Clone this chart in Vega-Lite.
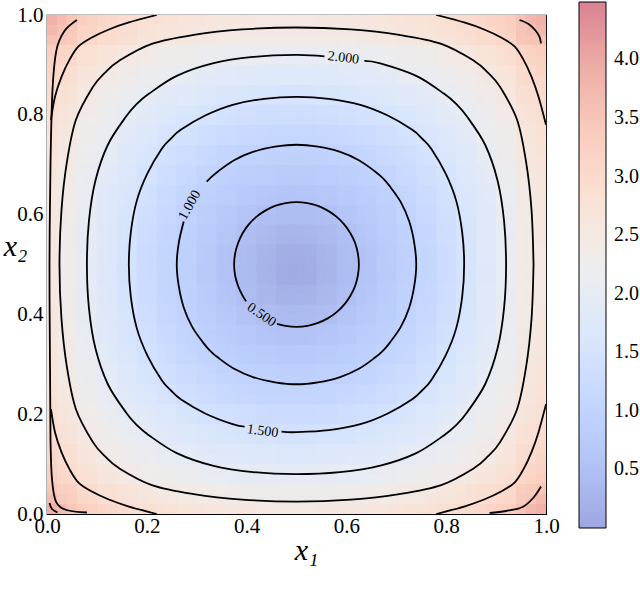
{
"$schema":"https://vega.github.io/schema/vega-lite/v6.json",
"width":499,"height":499,
"autosize":{"type":"none"},
"padding":{"left":47,"top":15,"right":94,"bottom":84},
"background":"white",
"config":{"view":{"stroke":"black","strokeWidth":1.2},"font":"Liberation Serif"},
"datasets":{
"grid":[
{"x":0.02,"y":0.02,"v":3.85},{"x":0.06,"y":0.02,"v":3.37},{"x":0.1,"y":0.02,"v":3.17},{"x":0.14,"y":0.02,"v":3.03},{"x":0.18,"y":0.02,"v":2.91},{"x":0.22,"y":0.02,"v":2.82},{"x":0.26,"y":0.02,"v":2.74},{"x":0.3,"y":0.02,"v":2.68},{"x":0.34,"y":0.02,"v":2.63},{"x":0.38,"y":0.02,"v":2.59},{"x":0.42,"y":0.02,"v":2.57},{"x":0.46,"y":0.02,"v":2.56},{"x":0.5,"y":0.02,"v":2.55},{"x":0.54,"y":0.02,"v":2.56},{"x":0.58,"y":0.02,"v":2.57},{"x":0.62,"y":0.02,"v":2.59},{"x":0.66,"y":0.02,"v":2.63},{"x":0.7,"y":0.02,"v":2.68},{"x":0.74,"y":0.02,"v":2.74},{"x":0.78,"y":0.02,"v":2.82},{"x":0.82,"y":0.02,"v":2.91},{"x":0.86,"y":0.02,"v":3.03},{"x":0.9,"y":0.02,"v":3.17},{"x":0.94,"y":0.02,"v":3.37},{"x":0.98,"y":0.02,"v":3.85},
{"x":0.02,"y":0.06,"v":3.37},{"x":0.06,"y":0.06,"v":3.04},{"x":0.1,"y":0.06,"v":2.84},{"x":0.14,"y":0.06,"v":2.69},{"x":0.18,"y":0.06,"v":2.56},{"x":0.22,"y":0.06,"v":2.45},{"x":0.26,"y":0.06,"v":2.36},{"x":0.3,"y":0.06,"v":2.30},{"x":0.34,"y":0.06,"v":2.24},{"x":0.38,"y":0.06,"v":2.19},{"x":0.42,"y":0.06,"v":2.16},{"x":0.46,"y":0.06,"v":2.15},{"x":0.5,"y":0.06,"v":2.14},{"x":0.54,"y":0.06,"v":2.15},{"x":0.58,"y":0.06,"v":2.16},{"x":0.62,"y":0.06,"v":2.19},{"x":0.66,"y":0.06,"v":2.24},{"x":0.7,"y":0.06,"v":2.30},{"x":0.74,"y":0.06,"v":2.36},{"x":0.78,"y":0.06,"v":2.45},{"x":0.82,"y":0.06,"v":2.56},{"x":0.86,"y":0.06,"v":2.69},{"x":0.9,"y":0.06,"v":2.84},{"x":0.94,"y":0.06,"v":3.04},{"x":0.98,"y":0.06,"v":3.37},
{"x":0.02,"y":0.1,"v":3.17},{"x":0.06,"y":0.1,"v":2.84},{"x":0.1,"y":0.1,"v":2.63},{"x":0.14,"y":0.1,"v":2.47},{"x":0.18,"y":0.1,"v":2.33},{"x":0.22,"y":0.1,"v":2.21},{"x":0.26,"y":0.1,"v":2.11},{"x":0.3,"y":0.1,"v":2.04},{"x":0.34,"y":0.1,"v":1.97},{"x":0.38,"y":0.1,"v":1.92},{"x":0.42,"y":0.1,"v":1.89},{"x":0.46,"y":0.1,"v":1.87},{"x":0.5,"y":0.1,"v":1.86},{"x":0.54,"y":0.1,"v":1.87},{"x":0.58,"y":0.1,"v":1.89},{"x":0.62,"y":0.1,"v":1.92},{"x":0.66,"y":0.1,"v":1.97},{"x":0.7,"y":0.1,"v":2.04},{"x":0.74,"y":0.1,"v":2.11},{"x":0.78,"y":0.1,"v":2.21},{"x":0.82,"y":0.1,"v":2.33},{"x":0.86,"y":0.1,"v":2.47},{"x":0.9,"y":0.1,"v":2.63},{"x":0.94,"y":0.1,"v":2.84},{"x":0.98,"y":0.1,"v":3.17},
{"x":0.02,"y":0.14,"v":3.03},{"x":0.06,"y":0.14,"v":2.69},{"x":0.1,"y":0.14,"v":2.47},{"x":0.14,"y":0.14,"v":2.31},{"x":0.18,"y":0.14,"v":2.16},{"x":0.22,"y":0.14,"v":2.02},{"x":0.26,"y":0.14,"v":1.91},{"x":0.3,"y":0.14,"v":1.83},{"x":0.34,"y":0.14,"v":1.75},{"x":0.38,"y":0.14,"v":1.70},{"x":0.42,"y":0.14,"v":1.66},{"x":0.46,"y":0.14,"v":1.64},{"x":0.5,"y":0.14,"v":1.63},{"x":0.54,"y":0.14,"v":1.64},{"x":0.58,"y":0.14,"v":1.66},{"x":0.62,"y":0.14,"v":1.70},{"x":0.66,"y":0.14,"v":1.75},{"x":0.7,"y":0.14,"v":1.83},{"x":0.74,"y":0.14,"v":1.91},{"x":0.78,"y":0.14,"v":2.02},{"x":0.82,"y":0.14,"v":2.16},{"x":0.86,"y":0.14,"v":2.31},{"x":0.9,"y":0.14,"v":2.47},{"x":0.94,"y":0.14,"v":2.69},{"x":0.98,"y":0.14,"v":3.03},
{"x":0.02,"y":0.18,"v":2.91},{"x":0.06,"y":0.18,"v":2.56},{"x":0.1,"y":0.18,"v":2.33},{"x":0.14,"y":0.18,"v":2.16},{"x":0.18,"y":0.18,"v":1.99},{"x":0.22,"y":0.18,"v":1.85},{"x":0.26,"y":0.18,"v":1.73},{"x":0.3,"y":0.18,"v":1.64},{"x":0.34,"y":0.18,"v":1.55},{"x":0.38,"y":0.18,"v":1.49},{"x":0.42,"y":0.18,"v":1.45},{"x":0.46,"y":0.18,"v":1.42},{"x":0.5,"y":0.18,"v":1.41},{"x":0.54,"y":0.18,"v":1.42},{"x":0.58,"y":0.18,"v":1.45},{"x":0.62,"y":0.18,"v":1.49},{"x":0.66,"y":0.18,"v":1.55},{"x":0.7,"y":0.18,"v":1.64},{"x":0.74,"y":0.18,"v":1.73},{"x":0.78,"y":0.18,"v":1.85},{"x":0.82,"y":0.18,"v":1.99},{"x":0.86,"y":0.18,"v":2.16},{"x":0.9,"y":0.18,"v":2.33},{"x":0.94,"y":0.18,"v":2.56},{"x":0.98,"y":0.18,"v":2.91},
{"x":0.02,"y":0.22,"v":2.82},{"x":0.06,"y":0.22,"v":2.45},{"x":0.1,"y":0.22,"v":2.21},{"x":0.14,"y":0.22,"v":2.02},{"x":0.18,"y":0.22,"v":1.85},{"x":0.22,"y":0.22,"v":1.70},{"x":0.26,"y":0.22,"v":1.56},{"x":0.3,"y":0.22,"v":1.46},{"x":0.34,"y":0.22,"v":1.36},{"x":0.38,"y":0.22,"v":1.29},{"x":0.42,"y":0.22,"v":1.24},{"x":0.46,"y":0.22,"v":1.21},{"x":0.5,"y":0.22,"v":1.20},{"x":0.54,"y":0.22,"v":1.21},{"x":0.58,"y":0.22,"v":1.24},{"x":0.62,"y":0.22,"v":1.29},{"x":0.66,"y":0.22,"v":1.36},{"x":0.7,"y":0.22,"v":1.46},{"x":0.74,"y":0.22,"v":1.56},{"x":0.78,"y":0.22,"v":1.70},{"x":0.82,"y":0.22,"v":1.85},{"x":0.86,"y":0.22,"v":2.02},{"x":0.9,"y":0.22,"v":2.21},{"x":0.94,"y":0.22,"v":2.45},{"x":0.98,"y":0.22,"v":2.82},
{"x":0.02,"y":0.26,"v":2.74},{"x":0.06,"y":0.26,"v":2.36},{"x":0.1,"y":0.26,"v":2.11},{"x":0.14,"y":0.26,"v":1.91},{"x":0.18,"y":0.26,"v":1.73},{"x":0.22,"y":0.26,"v":1.56},{"x":0.26,"y":0.26,"v":1.41},{"x":0.3,"y":0.26,"v":1.30},{"x":0.34,"y":0.26,"v":1.19},{"x":0.38,"y":0.26,"v":1.11},{"x":0.42,"y":0.26,"v":1.05},{"x":0.46,"y":0.26,"v":1.01},{"x":0.5,"y":0.26,"v":1.00},{"x":0.54,"y":0.26,"v":1.01},{"x":0.58,"y":0.26,"v":1.05},{"x":0.62,"y":0.26,"v":1.11},{"x":0.66,"y":0.26,"v":1.19},{"x":0.7,"y":0.26,"v":1.30},{"x":0.74,"y":0.26,"v":1.41},{"x":0.78,"y":0.26,"v":1.56},{"x":0.82,"y":0.26,"v":1.73},{"x":0.86,"y":0.26,"v":1.91},{"x":0.9,"y":0.26,"v":2.11},{"x":0.94,"y":0.26,"v":2.36},{"x":0.98,"y":0.26,"v":2.74},
{"x":0.02,"y":0.3,"v":2.68},{"x":0.06,"y":0.3,"v":2.30},{"x":0.1,"y":0.3,"v":2.04},{"x":0.14,"y":0.3,"v":1.83},{"x":0.18,"y":0.3,"v":1.64},{"x":0.22,"y":0.3,"v":1.46},{"x":0.26,"y":0.3,"v":1.30},{"x":0.3,"y":0.3,"v":1.17},{"x":0.34,"y":0.3,"v":1.05},{"x":0.38,"y":0.3,"v":0.96},{"x":0.42,"y":0.3,"v":0.89},{"x":0.46,"y":0.3,"v":0.85},{"x":0.5,"y":0.3,"v":0.83},{"x":0.54,"y":0.3,"v":0.85},{"x":0.58,"y":0.3,"v":0.89},{"x":0.62,"y":0.3,"v":0.96},{"x":0.66,"y":0.3,"v":1.05},{"x":0.7,"y":0.3,"v":1.17},{"x":0.74,"y":0.3,"v":1.30},{"x":0.78,"y":0.3,"v":1.46},{"x":0.82,"y":0.3,"v":1.64},{"x":0.86,"y":0.3,"v":1.83},{"x":0.9,"y":0.3,"v":2.04},{"x":0.94,"y":0.3,"v":2.30},{"x":0.98,"y":0.3,"v":2.68},
{"x":0.02,"y":0.34,"v":2.63},{"x":0.06,"y":0.34,"v":2.24},{"x":0.1,"y":0.34,"v":1.97},{"x":0.14,"y":0.34,"v":1.75},{"x":0.18,"y":0.34,"v":1.55},{"x":0.22,"y":0.34,"v":1.36},{"x":0.26,"y":0.34,"v":1.19},{"x":0.3,"y":0.34,"v":1.05},{"x":0.34,"y":0.34,"v":0.92},{"x":0.38,"y":0.34,"v":0.81},{"x":0.42,"y":0.34,"v":0.72},{"x":0.46,"y":0.34,"v":0.67},{"x":0.5,"y":0.34,"v":0.65},{"x":0.54,"y":0.34,"v":0.67},{"x":0.58,"y":0.34,"v":0.72},{"x":0.62,"y":0.34,"v":0.81},{"x":0.66,"y":0.34,"v":0.92},{"x":0.7,"y":0.34,"v":1.05},{"x":0.74,"y":0.34,"v":1.19},{"x":0.78,"y":0.34,"v":1.36},{"x":0.82,"y":0.34,"v":1.55},{"x":0.86,"y":0.34,"v":1.75},{"x":0.9,"y":0.34,"v":1.97},{"x":0.94,"y":0.34,"v":2.24},{"x":0.98,"y":0.34,"v":2.63},
{"x":0.02,"y":0.38,"v":2.59},{"x":0.06,"y":0.38,"v":2.19},{"x":0.1,"y":0.38,"v":1.92},{"x":0.14,"y":0.38,"v":1.70},{"x":0.18,"y":0.38,"v":1.49},{"x":0.22,"y":0.38,"v":1.29},{"x":0.26,"y":0.38,"v":1.11},{"x":0.3,"y":0.38,"v":0.96},{"x":0.34,"y":0.38,"v":0.81},{"x":0.38,"y":0.38,"v":0.68},{"x":0.42,"y":0.38,"v":0.58},{"x":0.46,"y":0.38,"v":0.51},{"x":0.5,"y":0.38,"v":0.48},{"x":0.54,"y":0.38,"v":0.51},{"x":0.58,"y":0.38,"v":0.58},{"x":0.62,"y":0.38,"v":0.68},{"x":0.66,"y":0.38,"v":0.81},{"x":0.7,"y":0.38,"v":0.96},{"x":0.74,"y":0.38,"v":1.11},{"x":0.78,"y":0.38,"v":1.29},{"x":0.82,"y":0.38,"v":1.49},{"x":0.86,"y":0.38,"v":1.70},{"x":0.9,"y":0.38,"v":1.92},{"x":0.94,"y":0.38,"v":2.19},{"x":0.98,"y":0.38,"v":2.59},
{"x":0.02,"y":0.42,"v":2.57},{"x":0.06,"y":0.42,"v":2.16},{"x":0.1,"y":0.42,"v":1.89},{"x":0.14,"y":0.42,"v":1.66},{"x":0.18,"y":0.42,"v":1.45},{"x":0.22,"y":0.42,"v":1.24},{"x":0.26,"y":0.42,"v":1.05},{"x":0.3,"y":0.42,"v":0.89},{"x":0.34,"y":0.42,"v":0.72},{"x":0.38,"y":0.42,"v":0.58},{"x":0.42,"y":0.42,"v":0.45},{"x":0.46,"y":0.42,"v":0.36},{"x":0.5,"y":0.42,"v":0.32},{"x":0.54,"y":0.42,"v":0.36},{"x":0.58,"y":0.42,"v":0.45},{"x":0.62,"y":0.42,"v":0.58},{"x":0.66,"y":0.42,"v":0.72},{"x":0.7,"y":0.42,"v":0.89},{"x":0.74,"y":0.42,"v":1.05},{"x":0.78,"y":0.42,"v":1.24},{"x":0.82,"y":0.42,"v":1.45},{"x":0.86,"y":0.42,"v":1.66},{"x":0.9,"y":0.42,"v":1.89},{"x":0.94,"y":0.42,"v":2.16},{"x":0.98,"y":0.42,"v":2.57},
{"x":0.02,"y":0.46,"v":2.56},{"x":0.06,"y":0.46,"v":2.15},{"x":0.1,"y":0.46,"v":1.87},{"x":0.14,"y":0.46,"v":1.64},{"x":0.18,"y":0.46,"v":1.42},{"x":0.22,"y":0.46,"v":1.21},{"x":0.26,"y":0.46,"v":1.01},{"x":0.3,"y":0.46,"v":0.85},{"x":0.34,"y":0.46,"v":0.67},{"x":0.38,"y":0.46,"v":0.51},{"x":0.42,"y":0.46,"v":0.36},{"x":0.46,"y":0.46,"v":0.23},{"x":0.5,"y":0.46,"v":0.16},{"x":0.54,"y":0.46,"v":0.23},{"x":0.58,"y":0.46,"v":0.36},{"x":0.62,"y":0.46,"v":0.51},{"x":0.66,"y":0.46,"v":0.67},{"x":0.7,"y":0.46,"v":0.85},{"x":0.74,"y":0.46,"v":1.01},{"x":0.78,"y":0.46,"v":1.21},{"x":0.82,"y":0.46,"v":1.42},{"x":0.86,"y":0.46,"v":1.64},{"x":0.9,"y":0.46,"v":1.87},{"x":0.94,"y":0.46,"v":2.15},{"x":0.98,"y":0.46,"v":2.56},
{"x":0.02,"y":0.5,"v":2.55},{"x":0.06,"y":0.5,"v":2.14},{"x":0.1,"y":0.5,"v":1.86},{"x":0.14,"y":0.5,"v":1.63},{"x":0.18,"y":0.5,"v":1.41},{"x":0.22,"y":0.5,"v":1.20},{"x":0.26,"y":0.5,"v":1.00},{"x":0.3,"y":0.5,"v":0.83},{"x":0.34,"y":0.5,"v":0.65},{"x":0.38,"y":0.5,"v":0.48},{"x":0.42,"y":0.5,"v":0.32},{"x":0.46,"y":0.5,"v":0.16},{"x":0.5,"y":0.5,"v":0.0},{"x":0.54,"y":0.5,"v":0.16},{"x":0.58,"y":0.5,"v":0.32},{"x":0.62,"y":0.5,"v":0.48},{"x":0.66,"y":0.5,"v":0.65},{"x":0.7,"y":0.5,"v":0.83},{"x":0.74,"y":0.5,"v":1.00},{"x":0.78,"y":0.5,"v":1.20},{"x":0.82,"y":0.5,"v":1.41},{"x":0.86,"y":0.5,"v":1.63},{"x":0.9,"y":0.5,"v":1.86},{"x":0.94,"y":0.5,"v":2.14},{"x":0.98,"y":0.5,"v":2.55},
{"x":0.02,"y":0.54,"v":2.56},{"x":0.06,"y":0.54,"v":2.15},{"x":0.1,"y":0.54,"v":1.87},{"x":0.14,"y":0.54,"v":1.64},{"x":0.18,"y":0.54,"v":1.42},{"x":0.22,"y":0.54,"v":1.21},{"x":0.26,"y":0.54,"v":1.01},{"x":0.3,"y":0.54,"v":0.85},{"x":0.34,"y":0.54,"v":0.67},{"x":0.38,"y":0.54,"v":0.51},{"x":0.42,"y":0.54,"v":0.36},{"x":0.46,"y":0.54,"v":0.23},{"x":0.5,"y":0.54,"v":0.16},{"x":0.54,"y":0.54,"v":0.23},{"x":0.58,"y":0.54,"v":0.36},{"x":0.62,"y":0.54,"v":0.51},{"x":0.66,"y":0.54,"v":0.67},{"x":0.7,"y":0.54,"v":0.85},{"x":0.74,"y":0.54,"v":1.01},{"x":0.78,"y":0.54,"v":1.21},{"x":0.82,"y":0.54,"v":1.42},{"x":0.86,"y":0.54,"v":1.64},{"x":0.9,"y":0.54,"v":1.87},{"x":0.94,"y":0.54,"v":2.15},{"x":0.98,"y":0.54,"v":2.56},
{"x":0.02,"y":0.58,"v":2.57},{"x":0.06,"y":0.58,"v":2.16},{"x":0.1,"y":0.58,"v":1.89},{"x":0.14,"y":0.58,"v":1.66},{"x":0.18,"y":0.58,"v":1.45},{"x":0.22,"y":0.58,"v":1.24},{"x":0.26,"y":0.58,"v":1.05},{"x":0.3,"y":0.58,"v":0.89},{"x":0.34,"y":0.58,"v":0.72},{"x":0.38,"y":0.58,"v":0.58},{"x":0.42,"y":0.58,"v":0.45},{"x":0.46,"y":0.58,"v":0.36},{"x":0.5,"y":0.58,"v":0.32},{"x":0.54,"y":0.58,"v":0.36},{"x":0.58,"y":0.58,"v":0.45},{"x":0.62,"y":0.58,"v":0.58},{"x":0.66,"y":0.58,"v":0.72},{"x":0.7,"y":0.58,"v":0.89},{"x":0.74,"y":0.58,"v":1.05},{"x":0.78,"y":0.58,"v":1.24},{"x":0.82,"y":0.58,"v":1.45},{"x":0.86,"y":0.58,"v":1.66},{"x":0.9,"y":0.58,"v":1.89},{"x":0.94,"y":0.58,"v":2.16},{"x":0.98,"y":0.58,"v":2.57},
{"x":0.02,"y":0.62,"v":2.59},{"x":0.06,"y":0.62,"v":2.19},{"x":0.1,"y":0.62,"v":1.92},{"x":0.14,"y":0.62,"v":1.70},{"x":0.18,"y":0.62,"v":1.49},{"x":0.22,"y":0.62,"v":1.29},{"x":0.26,"y":0.62,"v":1.11},{"x":0.3,"y":0.62,"v":0.96},{"x":0.34,"y":0.62,"v":0.81},{"x":0.38,"y":0.62,"v":0.68},{"x":0.42,"y":0.62,"v":0.58},{"x":0.46,"y":0.62,"v":0.51},{"x":0.5,"y":0.62,"v":0.48},{"x":0.54,"y":0.62,"v":0.51},{"x":0.58,"y":0.62,"v":0.58},{"x":0.62,"y":0.62,"v":0.68},{"x":0.66,"y":0.62,"v":0.81},{"x":0.7,"y":0.62,"v":0.96},{"x":0.74,"y":0.62,"v":1.11},{"x":0.78,"y":0.62,"v":1.29},{"x":0.82,"y":0.62,"v":1.49},{"x":0.86,"y":0.62,"v":1.70},{"x":0.9,"y":0.62,"v":1.92},{"x":0.94,"y":0.62,"v":2.19},{"x":0.98,"y":0.62,"v":2.59},
{"x":0.02,"y":0.66,"v":2.63},{"x":0.06,"y":0.66,"v":2.24},{"x":0.1,"y":0.66,"v":1.97},{"x":0.14,"y":0.66,"v":1.75},{"x":0.18,"y":0.66,"v":1.55},{"x":0.22,"y":0.66,"v":1.36},{"x":0.26,"y":0.66,"v":1.19},{"x":0.3,"y":0.66,"v":1.05},{"x":0.34,"y":0.66,"v":0.92},{"x":0.38,"y":0.66,"v":0.81},{"x":0.42,"y":0.66,"v":0.72},{"x":0.46,"y":0.66,"v":0.67},{"x":0.5,"y":0.66,"v":0.65},{"x":0.54,"y":0.66,"v":0.67},{"x":0.58,"y":0.66,"v":0.72},{"x":0.62,"y":0.66,"v":0.81},{"x":0.66,"y":0.66,"v":0.92},{"x":0.7,"y":0.66,"v":1.05},{"x":0.74,"y":0.66,"v":1.19},{"x":0.78,"y":0.66,"v":1.36},{"x":0.82,"y":0.66,"v":1.55},{"x":0.86,"y":0.66,"v":1.75},{"x":0.9,"y":0.66,"v":1.97},{"x":0.94,"y":0.66,"v":2.24},{"x":0.98,"y":0.66,"v":2.63},
{"x":0.02,"y":0.7,"v":2.68},{"x":0.06,"y":0.7,"v":2.30},{"x":0.1,"y":0.7,"v":2.04},{"x":0.14,"y":0.7,"v":1.83},{"x":0.18,"y":0.7,"v":1.64},{"x":0.22,"y":0.7,"v":1.46},{"x":0.26,"y":0.7,"v":1.30},{"x":0.3,"y":0.7,"v":1.17},{"x":0.34,"y":0.7,"v":1.05},{"x":0.38,"y":0.7,"v":0.96},{"x":0.42,"y":0.7,"v":0.89},{"x":0.46,"y":0.7,"v":0.85},{"x":0.5,"y":0.7,"v":0.83},{"x":0.54,"y":0.7,"v":0.85},{"x":0.58,"y":0.7,"v":0.89},{"x":0.62,"y":0.7,"v":0.96},{"x":0.66,"y":0.7,"v":1.05},{"x":0.7,"y":0.7,"v":1.17},{"x":0.74,"y":0.7,"v":1.30},{"x":0.78,"y":0.7,"v":1.46},{"x":0.82,"y":0.7,"v":1.64},{"x":0.86,"y":0.7,"v":1.83},{"x":0.9,"y":0.7,"v":2.04},{"x":0.94,"y":0.7,"v":2.30},{"x":0.98,"y":0.7,"v":2.68},
{"x":0.02,"y":0.74,"v":2.74},{"x":0.06,"y":0.74,"v":2.36},{"x":0.1,"y":0.74,"v":2.11},{"x":0.14,"y":0.74,"v":1.91},{"x":0.18,"y":0.74,"v":1.73},{"x":0.22,"y":0.74,"v":1.56},{"x":0.26,"y":0.74,"v":1.41},{"x":0.3,"y":0.74,"v":1.30},{"x":0.34,"y":0.74,"v":1.19},{"x":0.38,"y":0.74,"v":1.11},{"x":0.42,"y":0.74,"v":1.05},{"x":0.46,"y":0.74,"v":1.01},{"x":0.5,"y":0.74,"v":1.00},{"x":0.54,"y":0.74,"v":1.01},{"x":0.58,"y":0.74,"v":1.05},{"x":0.62,"y":0.74,"v":1.11},{"x":0.66,"y":0.74,"v":1.19},{"x":0.7,"y":0.74,"v":1.30},{"x":0.74,"y":0.74,"v":1.41},{"x":0.78,"y":0.74,"v":1.56},{"x":0.82,"y":0.74,"v":1.73},{"x":0.86,"y":0.74,"v":1.91},{"x":0.9,"y":0.74,"v":2.11},{"x":0.94,"y":0.74,"v":2.36},{"x":0.98,"y":0.74,"v":2.74},
{"x":0.02,"y":0.78,"v":2.82},{"x":0.06,"y":0.78,"v":2.45},{"x":0.1,"y":0.78,"v":2.21},{"x":0.14,"y":0.78,"v":2.02},{"x":0.18,"y":0.78,"v":1.85},{"x":0.22,"y":0.78,"v":1.70},{"x":0.26,"y":0.78,"v":1.56},{"x":0.3,"y":0.78,"v":1.46},{"x":0.34,"y":0.78,"v":1.36},{"x":0.38,"y":0.78,"v":1.29},{"x":0.42,"y":0.78,"v":1.24},{"x":0.46,"y":0.78,"v":1.21},{"x":0.5,"y":0.78,"v":1.20},{"x":0.54,"y":0.78,"v":1.21},{"x":0.58,"y":0.78,"v":1.24},{"x":0.62,"y":0.78,"v":1.29},{"x":0.66,"y":0.78,"v":1.36},{"x":0.7,"y":0.78,"v":1.46},{"x":0.74,"y":0.78,"v":1.56},{"x":0.78,"y":0.78,"v":1.70},{"x":0.82,"y":0.78,"v":1.85},{"x":0.86,"y":0.78,"v":2.02},{"x":0.9,"y":0.78,"v":2.21},{"x":0.94,"y":0.78,"v":2.45},{"x":0.98,"y":0.78,"v":2.82},
{"x":0.02,"y":0.82,"v":2.91},{"x":0.06,"y":0.82,"v":2.56},{"x":0.1,"y":0.82,"v":2.33},{"x":0.14,"y":0.82,"v":2.16},{"x":0.18,"y":0.82,"v":1.99},{"x":0.22,"y":0.82,"v":1.85},{"x":0.26,"y":0.82,"v":1.73},{"x":0.3,"y":0.82,"v":1.64},{"x":0.34,"y":0.82,"v":1.55},{"x":0.38,"y":0.82,"v":1.49},{"x":0.42,"y":0.82,"v":1.45},{"x":0.46,"y":0.82,"v":1.42},{"x":0.5,"y":0.82,"v":1.41},{"x":0.54,"y":0.82,"v":1.42},{"x":0.58,"y":0.82,"v":1.45},{"x":0.62,"y":0.82,"v":1.49},{"x":0.66,"y":0.82,"v":1.55},{"x":0.7,"y":0.82,"v":1.64},{"x":0.74,"y":0.82,"v":1.73},{"x":0.78,"y":0.82,"v":1.85},{"x":0.82,"y":0.82,"v":1.99},{"x":0.86,"y":0.82,"v":2.16},{"x":0.9,"y":0.82,"v":2.33},{"x":0.94,"y":0.82,"v":2.56},{"x":0.98,"y":0.82,"v":2.91},
{"x":0.02,"y":0.86,"v":3.03},{"x":0.06,"y":0.86,"v":2.69},{"x":0.1,"y":0.86,"v":2.47},{"x":0.14,"y":0.86,"v":2.31},{"x":0.18,"y":0.86,"v":2.16},{"x":0.22,"y":0.86,"v":2.02},{"x":0.26,"y":0.86,"v":1.91},{"x":0.3,"y":0.86,"v":1.83},{"x":0.34,"y":0.86,"v":1.75},{"x":0.38,"y":0.86,"v":1.70},{"x":0.42,"y":0.86,"v":1.66},{"x":0.46,"y":0.86,"v":1.64},{"x":0.5,"y":0.86,"v":1.63},{"x":0.54,"y":0.86,"v":1.64},{"x":0.58,"y":0.86,"v":1.66},{"x":0.62,"y":0.86,"v":1.70},{"x":0.66,"y":0.86,"v":1.75},{"x":0.7,"y":0.86,"v":1.83},{"x":0.74,"y":0.86,"v":1.91},{"x":0.78,"y":0.86,"v":2.02},{"x":0.82,"y":0.86,"v":2.16},{"x":0.86,"y":0.86,"v":2.31},{"x":0.9,"y":0.86,"v":2.47},{"x":0.94,"y":0.86,"v":2.69},{"x":0.98,"y":0.86,"v":3.03},
{"x":0.02,"y":0.9,"v":3.17},{"x":0.06,"y":0.9,"v":2.84},{"x":0.1,"y":0.9,"v":2.63},{"x":0.14,"y":0.9,"v":2.47},{"x":0.18,"y":0.9,"v":2.33},{"x":0.22,"y":0.9,"v":2.21},{"x":0.26,"y":0.9,"v":2.11},{"x":0.3,"y":0.9,"v":2.04},{"x":0.34,"y":0.9,"v":1.97},{"x":0.38,"y":0.9,"v":1.92},{"x":0.42,"y":0.9,"v":1.89},{"x":0.46,"y":0.9,"v":1.87},{"x":0.5,"y":0.9,"v":1.86},{"x":0.54,"y":0.9,"v":1.87},{"x":0.58,"y":0.9,"v":1.89},{"x":0.62,"y":0.9,"v":1.92},{"x":0.66,"y":0.9,"v":1.97},{"x":0.7,"y":0.9,"v":2.04},{"x":0.74,"y":0.9,"v":2.11},{"x":0.78,"y":0.9,"v":2.21},{"x":0.82,"y":0.9,"v":2.33},{"x":0.86,"y":0.9,"v":2.47},{"x":0.9,"y":0.9,"v":2.63},{"x":0.94,"y":0.9,"v":2.84},{"x":0.98,"y":0.9,"v":3.17},
{"x":0.02,"y":0.94,"v":3.37},{"x":0.06,"y":0.94,"v":3.04},{"x":0.1,"y":0.94,"v":2.84},{"x":0.14,"y":0.94,"v":2.69},{"x":0.18,"y":0.94,"v":2.56},{"x":0.22,"y":0.94,"v":2.45},{"x":0.26,"y":0.94,"v":2.36},{"x":0.3,"y":0.94,"v":2.30},{"x":0.34,"y":0.94,"v":2.24},{"x":0.38,"y":0.94,"v":2.19},{"x":0.42,"y":0.94,"v":2.16},{"x":0.46,"y":0.94,"v":2.15},{"x":0.5,"y":0.94,"v":2.14},{"x":0.54,"y":0.94,"v":2.15},{"x":0.58,"y":0.94,"v":2.16},{"x":0.62,"y":0.94,"v":2.19},{"x":0.66,"y":0.94,"v":2.24},{"x":0.7,"y":0.94,"v":2.30},{"x":0.74,"y":0.94,"v":2.36},{"x":0.78,"y":0.94,"v":2.45},{"x":0.82,"y":0.94,"v":2.56},{"x":0.86,"y":0.94,"v":2.69},{"x":0.9,"y":0.94,"v":2.84},{"x":0.94,"y":0.94,"v":3.04},{"x":0.98,"y":0.94,"v":3.37},
{"x":0.02,"y":0.98,"v":3.85},{"x":0.06,"y":0.98,"v":3.37},{"x":0.1,"y":0.98,"v":3.17},{"x":0.14,"y":0.98,"v":3.03},{"x":0.18,"y":0.98,"v":2.91},{"x":0.22,"y":0.98,"v":2.82},{"x":0.26,"y":0.98,"v":2.74},{"x":0.3,"y":0.98,"v":2.68},{"x":0.34,"y":0.98,"v":2.63},{"x":0.38,"y":0.98,"v":2.59},{"x":0.42,"y":0.98,"v":2.57},{"x":0.46,"y":0.98,"v":2.56},{"x":0.5,"y":0.98,"v":2.55},{"x":0.54,"y":0.98,"v":2.56},{"x":0.58,"y":0.98,"v":2.57},{"x":0.62,"y":0.98,"v":2.59},{"x":0.66,"y":0.98,"v":2.63},{"x":0.7,"y":0.98,"v":2.68},{"x":0.74,"y":0.98,"v":2.74},{"x":0.78,"y":0.98,"v":2.82},{"x":0.82,"y":0.98,"v":2.91},{"x":0.86,"y":0.98,"v":3.03},{"x":0.9,"y":0.98,"v":3.17},{"x":0.94,"y":0.98,"v":3.37},{"x":0.98,"y":0.98,"v":3.85}
],
"contours":[
{"c":"c05","i":0,"x":0.461,"y":0.381},{"c":"c05","i":1,"x":0.478,"y":0.377},{"c":"c05","i":2,"x":0.5,"y":0.375},{"c":"c05","i":3,"x":0.522,"y":0.377},{"c":"c05","i":4,"x":0.543,"y":0.383},{"c":"c05","i":5,"x":0.5625,"y":0.392},{"c":"c05","i":6,"x":0.58,"y":0.404},{"c":"c05","i":7,"x":0.596,"y":0.42},{"c":"c05","i":8,"x":0.608,"y":0.4375},{"c":"c05","i":9,"x":0.6175,"y":0.457},{"c":"c05","i":10,"x":0.623,"y":0.478},{"c":"c05","i":11,"x":0.625,"y":0.5},{"c":"c05","i":12,"x":0.623,"y":0.522},{"c":"c05","i":13,"x":0.6175,"y":0.543},{"c":"c05","i":14,"x":0.608,"y":0.5625},{"c":"c05","i":15,"x":0.596,"y":0.58},{"c":"c05","i":16,"x":0.58,"y":0.596},{"c":"c05","i":17,"x":0.5625,"y":0.608},{"c":"c05","i":18,"x":0.543,"y":0.6175},{"c":"c05","i":19,"x":0.522,"y":0.623},{"c":"c05","i":20,"x":0.5,"y":0.625},{"c":"c05","i":21,"x":0.478,"y":0.623},{"c":"c05","i":22,"x":0.457,"y":0.6175},{"c":"c05","i":23,"x":0.4375,"y":0.608},{"c":"c05","i":24,"x":0.42,"y":0.596},{"c":"c05","i":25,"x":0.404,"y":0.58},{"c":"c05","i":26,"x":0.392,"y":0.5625},{"c":"c05","i":27,"x":0.383,"y":0.543},{"c":"c05","i":28,"x":0.377,"y":0.522},{"c":"c05","i":29,"x":0.375,"y":0.5},{"c":"c05","i":30,"x":0.377,"y":0.478},{"c":"c05","i":31,"x":0.383,"y":0.457},{"c":"c05","i":32,"x":0.392,"y":0.4375},{"c":"c05","i":33,"x":0.399,"y":0.4265},
{"c":"c10","i":0,"x":0.274,"y":0.586},{"c":"c10","i":1,"x":0.264,"y":0.543},{"c":"c10","i":2,"x":0.26,"y":0.5},{"c":"c10","i":3,"x":0.264,"y":0.457},{"c":"c10","i":4,"x":0.274,"y":0.414},{"c":"c10","i":5,"x":0.291,"y":0.375},{"c":"c10","i":6,"x":0.314,"y":0.342},{"c":"c10","i":7,"x":0.327,"y":0.327},{"c":"c10","i":8,"x":0.342,"y":0.314},{"c":"c10","i":9,"x":0.375,"y":0.291},{"c":"c10","i":10,"x":0.414,"y":0.274},{"c":"c10","i":11,"x":0.457,"y":0.264},{"c":"c10","i":12,"x":0.5,"y":0.26},{"c":"c10","i":13,"x":0.543,"y":0.264},{"c":"c10","i":14,"x":0.586,"y":0.274},{"c":"c10","i":15,"x":0.625,"y":0.291},{"c":"c10","i":16,"x":0.658,"y":0.314},{"c":"c10","i":17,"x":0.673,"y":0.327},{"c":"c10","i":18,"x":0.686,"y":0.342},{"c":"c10","i":19,"x":0.709,"y":0.375},{"c":"c10","i":20,"x":0.726,"y":0.414},{"c":"c10","i":21,"x":0.736,"y":0.457},{"c":"c10","i":22,"x":0.74,"y":0.5},{"c":"c10","i":23,"x":0.736,"y":0.543},{"c":"c10","i":24,"x":0.726,"y":0.586},{"c":"c10","i":25,"x":0.709,"y":0.625},{"c":"c10","i":26,"x":0.686,"y":0.658},{"c":"c10","i":27,"x":0.673,"y":0.673},{"c":"c10","i":28,"x":0.658,"y":0.686},{"c":"c10","i":29,"x":0.625,"y":0.709},{"c":"c10","i":30,"x":0.586,"y":0.726},{"c":"c10","i":31,"x":0.543,"y":0.736},{"c":"c10","i":32,"x":0.5,"y":0.74},{"c":"c10","i":33,"x":0.457,"y":0.736},{"c":"c10","i":34,"x":0.414,"y":0.726},{"c":"c10","i":35,"x":0.375,"y":0.709},{"c":"c10","i":36,"x":0.342,"y":0.686},{"c":"c10","i":37,"x":0.327,"y":0.673},{"c":"c10","i":38,"x":0.32,"y":0.666},
{"c":"c15","i":0,"x":0.47,"y":0.165},{"c":"c15","i":1,"x":0.5,"y":0.164},{"c":"c15","i":2,"x":0.565,"y":0.168},{"c":"c15","i":3,"x":0.628,"y":0.18},{"c":"c15","i":4,"x":0.682,"y":0.201},{"c":"c15","i":5,"x":0.732,"y":0.23},{"c":"c15","i":6,"x":0.752,"y":0.248},{"c":"c15","i":7,"x":0.77,"y":0.268},{"c":"c15","i":8,"x":0.799,"y":0.318},{"c":"c15","i":9,"x":0.82,"y":0.372},{"c":"c15","i":10,"x":0.832,"y":0.435},{"c":"c15","i":11,"x":0.836,"y":0.5},{"c":"c15","i":12,"x":0.832,"y":0.565},{"c":"c15","i":13,"x":0.82,"y":0.628},{"c":"c15","i":14,"x":0.799,"y":0.682},{"c":"c15","i":15,"x":0.77,"y":0.732},{"c":"c15","i":16,"x":0.752,"y":0.752},{"c":"c15","i":17,"x":0.732,"y":0.77},{"c":"c15","i":18,"x":0.682,"y":0.799},{"c":"c15","i":19,"x":0.628,"y":0.82},{"c":"c15","i":20,"x":0.565,"y":0.832},{"c":"c15","i":21,"x":0.5,"y":0.836},{"c":"c15","i":22,"x":0.435,"y":0.832},{"c":"c15","i":23,"x":0.372,"y":0.82},{"c":"c15","i":24,"x":0.318,"y":0.799},{"c":"c15","i":25,"x":0.268,"y":0.77},{"c":"c15","i":26,"x":0.248,"y":0.752},{"c":"c15","i":27,"x":0.23,"y":0.732},{"c":"c15","i":28,"x":0.201,"y":0.682},{"c":"c15","i":29,"x":0.18,"y":0.628},{"c":"c15","i":30,"x":0.168,"y":0.565},{"c":"c15","i":31,"x":0.164,"y":0.5},{"c":"c15","i":32,"x":0.168,"y":0.435},{"c":"c15","i":33,"x":0.18,"y":0.372},{"c":"c15","i":34,"x":0.201,"y":0.318},{"c":"c15","i":35,"x":0.23,"y":0.268},{"c":"c15","i":36,"x":0.248,"y":0.248},{"c":"c15","i":37,"x":0.268,"y":0.23},{"c":"c15","i":38,"x":0.318,"y":0.201},{"c":"c15","i":39,"x":0.372,"y":0.18},{"c":"c15","i":40,"x":0.396,"y":0.175},
{"c":"c20","i":0,"x":0.556,"y":0.917},{"c":"c20","i":1,"x":0.5,"y":0.92},{"c":"c20","i":2,"x":0.413,"y":0.916},{"c":"c20","i":3,"x":0.332,"y":0.903},{"c":"c20","i":4,"x":0.26,"y":0.878},{"c":"c20","i":5,"x":0.204,"y":0.842},{"c":"c20","i":6,"x":0.179,"y":0.821},{"c":"c20","i":7,"x":0.158,"y":0.796},{"c":"c20","i":8,"x":0.122,"y":0.74},{"c":"c20","i":9,"x":0.097,"y":0.668},{"c":"c20","i":10,"x":0.084,"y":0.587},{"c":"c20","i":11,"x":0.08,"y":0.5},{"c":"c20","i":12,"x":0.084,"y":0.413},{"c":"c20","i":13,"x":0.097,"y":0.332},{"c":"c20","i":14,"x":0.122,"y":0.26},{"c":"c20","i":15,"x":0.158,"y":0.204},{"c":"c20","i":16,"x":0.179,"y":0.179},{"c":"c20","i":17,"x":0.204,"y":0.158},{"c":"c20","i":18,"x":0.26,"y":0.122},{"c":"c20","i":19,"x":0.332,"y":0.097},{"c":"c20","i":20,"x":0.413,"y":0.084},{"c":"c20","i":21,"x":0.5,"y":0.08},{"c":"c20","i":22,"x":0.587,"y":0.084},{"c":"c20","i":23,"x":0.668,"y":0.097},{"c":"c20","i":24,"x":0.74,"y":0.122},{"c":"c20","i":25,"x":0.796,"y":0.158},{"c":"c20","i":26,"x":0.821,"y":0.179},{"c":"c20","i":27,"x":0.842,"y":0.204},{"c":"c20","i":28,"x":0.878,"y":0.26},{"c":"c20","i":29,"x":0.903,"y":0.332},{"c":"c20","i":30,"x":0.916,"y":0.413},{"c":"c20","i":31,"x":0.92,"y":0.5},{"c":"c20","i":32,"x":0.916,"y":0.587},{"c":"c20","i":33,"x":0.903,"y":0.668},{"c":"c20","i":34,"x":0.878,"y":0.74},{"c":"c20","i":35,"x":0.842,"y":0.796},{"c":"c20","i":36,"x":0.821,"y":0.821},{"c":"c20","i":37,"x":0.796,"y":0.842},{"c":"c20","i":38,"x":0.74,"y":0.878},{"c":"c20","i":39,"x":0.668,"y":0.903},{"c":"c20","i":40,"x":0.636,"y":0.908},
{"c":"c25","i":0,"x":0.975,"y":0.5},{"c":"c25","i":1,"x":0.971,"y":0.609},{"c":"c25","i":2,"x":0.96,"y":0.706},{"c":"c25","i":3,"x":0.942,"y":0.79},{"c":"c25","i":4,"x":0.908,"y":0.856},{"c":"c25","i":5,"x":0.884,"y":0.884},{"c":"c25","i":6,"x":0.856,"y":0.908},{"c":"c25","i":7,"x":0.79,"y":0.942},{"c":"c25","i":8,"x":0.706,"y":0.96},{"c":"c25","i":9,"x":0.609,"y":0.971},{"c":"c25","i":10,"x":0.5,"y":0.975},{"c":"c25","i":11,"x":0.391,"y":0.971},{"c":"c25","i":12,"x":0.294,"y":0.96},{"c":"c25","i":13,"x":0.21,"y":0.942},{"c":"c25","i":14,"x":0.144,"y":0.908},{"c":"c25","i":15,"x":0.116,"y":0.884},{"c":"c25","i":16,"x":0.092,"y":0.856},{"c":"c25","i":17,"x":0.058,"y":0.79},{"c":"c25","i":18,"x":0.04,"y":0.706},{"c":"c25","i":19,"x":0.029,"y":0.609},{"c":"c25","i":20,"x":0.025,"y":0.5},{"c":"c25","i":21,"x":0.029,"y":0.391},{"c":"c25","i":22,"x":0.04,"y":0.294},{"c":"c25","i":23,"x":0.058,"y":0.21},{"c":"c25","i":24,"x":0.092,"y":0.144},{"c":"c25","i":25,"x":0.116,"y":0.116},{"c":"c25","i":26,"x":0.144,"y":0.092},{"c":"c25","i":27,"x":0.21,"y":0.058},{"c":"c25","i":28,"x":0.294,"y":0.04},{"c":"c25","i":29,"x":0.391,"y":0.029},{"c":"c25","i":30,"x":0.5,"y":0.025},{"c":"c25","i":31,"x":0.609,"y":0.029},{"c":"c25","i":32,"x":0.706,"y":0.04},{"c":"c25","i":33,"x":0.79,"y":0.058},{"c":"c25","i":34,"x":0.856,"y":0.092},{"c":"c25","i":35,"x":0.884,"y":0.116},{"c":"c25","i":36,"x":0.908,"y":0.144},{"c":"c25","i":37,"x":0.942,"y":0.21},{"c":"c25","i":38,"x":0.96,"y":0.294},{"c":"c25","i":39,"x":0.971,"y":0.391},{"c":"c25","i":40,"x":0.975,"y":0.5},
{"c":"c30tr","i":0,"x":1.0,"y":0.78},{"c":"c30tr","i":1,"x":0.985,"y":0.836},{"c":"c30tr","i":2,"x":0.971,"y":0.876},{"c":"c30tr","i":3,"x":0.955,"y":0.91},{"c":"c30tr","i":4,"x":0.937,"y":0.937},{"c":"c30tr","i":5,"x":0.91,"y":0.955},{"c":"c30tr","i":6,"x":0.876,"y":0.971},{"c":"c30tr","i":7,"x":0.836,"y":0.985},{"c":"c30tr","i":8,"x":0.78,"y":1.0},
{"c":"c30br","i":0,"x":1.0,"y":0.22},{"c":"c30br","i":1,"x":0.985,"y":0.164},{"c":"c30br","i":2,"x":0.971,"y":0.124},{"c":"c30br","i":3,"x":0.955,"y":0.09},{"c":"c30br","i":4,"x":0.937,"y":0.063},{"c":"c30br","i":5,"x":0.91,"y":0.045},{"c":"c30br","i":6,"x":0.876,"y":0.029},{"c":"c30br","i":7,"x":0.836,"y":0.015},{"c":"c30br","i":8,"x":0.78,"y":0.0},
{"c":"c30tl","i":0,"x":0.22,"y":1.0},{"c":"c30tl","i":1,"x":0.164,"y":0.985},{"c":"c30tl","i":2,"x":0.124,"y":0.971},{"c":"c30tl","i":3,"x":0.09,"y":0.955},{"c":"c30tl","i":4,"x":0.063,"y":0.937},{"c":"c30tl","i":5,"x":0.045,"y":0.91},{"c":"c30tl","i":6,"x":0.029,"y":0.876},{"c":"c30tl","i":7,"x":0.016,"y":0.836},{"c":"c30tl","i":8,"x":0.008,"y":0.79},
{"c":"c30bl","i":0,"x":0.22,"y":0.0},{"c":"c30bl","i":1,"x":0.164,"y":0.015},{"c":"c30bl","i":2,"x":0.124,"y":0.029},{"c":"c30bl","i":3,"x":0.09,"y":0.045},{"c":"c30bl","i":4,"x":0.063,"y":0.063},{"c":"c30bl","i":5,"x":0.045,"y":0.09},{"c":"c30bl","i":6,"x":0.029,"y":0.124},{"c":"c30bl","i":7,"x":0.016,"y":0.164},{"c":"c30bl","i":8,"x":0.008,"y":0.21},
{"c":"c35tr","i":0,"x":0.947,"y":0.99},{"c":"c35tr","i":1,"x":0.965,"y":0.982},{"c":"c35tr","i":2,"x":0.979,"y":0.969},{"c":"c35tr","i":3,"x":0.987,"y":0.956},{"c":"c35tr","i":4,"x":0.99,"y":0.943},
{"c":"c35br","i":0,"x":0.99,"y":0.055},{"c":"c35br","i":1,"x":0.975,"y":0.033},{"c":"c35br","i":2,"x":0.953,"y":0.014},{"c":"c35br","i":3,"x":0.92,"y":0.006},{"c":"c35br","i":4,"x":0.887,"y":0.002},
{"c":"cL","i":0,"x":0.06,"y":0.99},{"c":"cL","i":1,"x":0.035,"y":0.968},{"c":"cL","i":2,"x":0.019,"y":0.93},{"c":"cL","i":3,"x":0.011,"y":0.85},{"c":"cL","i":4,"x":0.007,"y":0.7},{"c":"cL","i":5,"x":0.005,"y":0.5},{"c":"cL","i":6,"x":0.006,"y":0.3},{"c":"cL","i":7,"x":0.007,"y":0.15},{"c":"cL","i":8,"x":0.01,"y":0.07},{"c":"cL","i":9,"x":0.018,"y":0.025},{"c":"cL","i":10,"x":0.039,"y":0.008},{"c":"cL","i":11,"x":0.08,"y":0.003},
{"c":"c40bl","i":0,"x":0.005,"y":0.022},{"c":"c40bl","i":1,"x":0.01,"y":0.01},{"c":"c40bl","i":2,"x":0.021,"y":0.003}
],
"labels":[
{"t":"0.500","x":0.43,"y":0.399},
{"t":"1.000","x":0.286,"y":0.619},
{"t":"1.500","x":0.432,"y":0.166},
{"t":"2.000","x":0.594,"y":0.914}
]
},
"resolve":{"scale":{"color":"independent"},"legend":{"color":"independent"}},
"encoding":{
"x":{"field":"x","type":"quantitative","scale":{"domain":[0,1],"nice":false,"zero":false},
"axis":{"values":[0,0.2,0.4,0.6,0.8,1],"format":".1f","grid":false,"domain":false,"tickSize":-6,"tickColor":"black","tickWidth":1,"labelPadding":7,"labelFont":"Liberation Serif","labelFontSize":21,"labelColor":"black","labelFlush":false,"labelOverlap":false,"title":"x₁","titleFont":"Liberation Serif","titleFontSize":30,"titleFontStyle":"italic","titleFontWeight":"normal","titleColor":"black","titleX":259,"titleY":45,"titleAlign":"center","titleBaseline":"alphabetic"}},
"y":{"field":"y","type":"quantitative","scale":{"domain":[0,1],"nice":false,"zero":false},
"axis":{"values":[0,0.2,0.4,0.6,0.8,1],"format":".1f","grid":false,"domain":false,"tickSize":-6,"tickColor":"black","tickWidth":1,"labelPadding":10,"labelFont":"Liberation Serif","labelFontSize":21,"labelColor":"black","labelFlush":false,"labelOverlap":false,"title":"x₂","titleAngle":0,"titleFont":"Liberation Serif","titleFontSize":30,"titleFontStyle":"italic","titleFontWeight":"normal","titleColor":"black","titleX":-32,"titleY":231,"titleAlign":"center","titleBaseline":"middle"}}
},
"layer":[
{"data":{"name":"grid"},
"mark":{"type":"rect","width":20.5,"height":20.5,"clip":true},
"encoding":{"color":{"field":"v","type":"quantitative",
"scale":{"type":"linear","domain":[0,0.5613,1.1225,1.6838,2.245,2.8063,3.3675,3.9288,4.49],"range":["#9da6e0","#b3c4f7","#c6d8ff","#dce8fc","#eeeeee","#fae2d6","#facdbd","#eeaea5","#da8293"],"interpolate":"rgb"},
"legend":{"orient":"none","legendX":532,"legendY":-13,"direction":"vertical","title":null,"gradientLength":526,"gradientThickness":27,"gradientStrokeColor":"black","gradientStrokeWidth":1,"values":[0.5,1,1.5,2,2.5,3,3.5,4],"format":".1f","labelFont":"Liberation Serif","labelFontSize":20,"labelColor":"black","labelOffset":8,"labelOverlap":false,"padding":0}}}},
{"data":{"name":"grid"},
"mark":{"type":"rect","width":40,"height":40,"opacity":0.35,"clip":true},
"encoding":{"color":{"field":"v","type":"quantitative",
"scale":{"type":"linear","domain":[0,0.5613,1.1225,1.6838,2.245,2.8063,3.3675,3.9288,4.49],"range":["#9da6e0","#b3c4f7","#c6d8ff","#dce8fc","#eeeeee","#fae2d6","#facdbd","#eeaea5","#da8293"],"interpolate":"rgb"},
"legend":null}}},
{"data":{"name":"contours"},
"mark":{"type":"line","interpolate":"cardinal","color":"black","strokeWidth":1.8,"clip":true},
"encoding":{"detail":{"field":"c","type":"nominal"},"order":{"field":"i","type":"quantitative"}}},
{"data":{"name":"labels"},"transform":[{"filter":"datum.t==='0.500'"}],
"mark":{"type":"text","angle":35,"font":"Liberation Serif","fontSize":14,"color":"black","align":"center","baseline":"middle"},
"encoding":{"text":{"field":"t","type":"nominal"}}},
{"data":{"name":"labels"},"transform":[{"filter":"datum.t==='1.000'"}],
"mark":{"type":"text","angle":-61,"font":"Liberation Serif","fontSize":14,"color":"black","align":"center","baseline":"middle"},
"encoding":{"text":{"field":"t","type":"nominal"}}},
{"data":{"name":"labels"},"transform":[{"filter":"datum.t==='1.500'"}],
"mark":{"type":"text","angle":8,"font":"Liberation Serif","fontSize":14,"color":"black","align":"center","baseline":"middle"},
"encoding":{"text":{"field":"t","type":"nominal"}}},
{"data":{"name":"labels"},"transform":[{"filter":"datum.t==='2.000'"}],
"mark":{"type":"text","angle":7,"font":"Liberation Serif","fontSize":14,"color":"black","align":"center","baseline":"middle"},
"encoding":{"text":{"field":"t","type":"nominal"}}}
]
}
